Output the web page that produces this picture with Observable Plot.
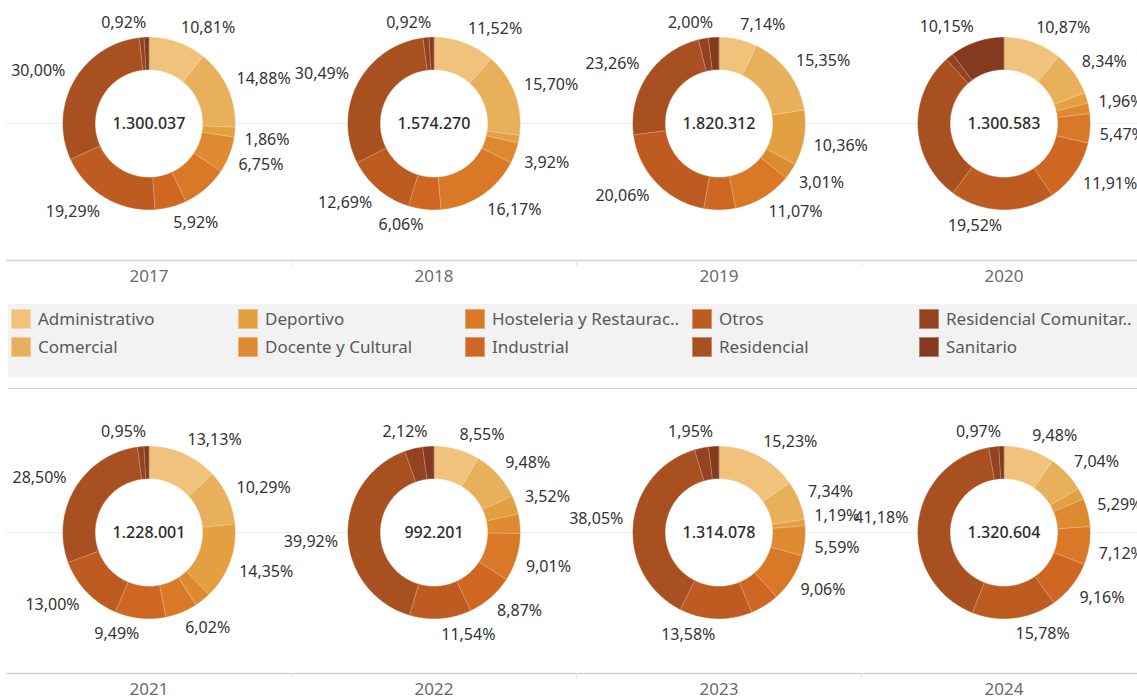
<!DOCTYPE html>
<html>
<head>
<meta charset="utf-8">
<script src="https://cdn.jsdelivr.net/npm/d3@7"></script>
<script src="https://cdn.jsdelivr.net/npm/@observablehq/plot@0.6"></script>
<style>
  html, body { margin: 0; padding: 0; background: #fff; overflow: hidden; width: 1137px; height: 697px; }
  #root { width: 1146px; font-family: 'Noto Sans', sans-serif; }
  #root svg { display: block; }
  .legwrap { margin-left: 8px; height: 92px; padding-top: 7px; box-sizing: border-box; border-bottom: 1.5px solid #d3d3d3; }
  .legbox { height: 73px; background: #f2f2f2; padding: 5px 0 0 3px; box-sizing: border-box; }
  .leggrid { display: grid; grid-template-columns: repeat(5, 227px); grid-template-rows: 28px 28px; grid-auto-flow: column; }
  .legitem { display: flex; align-items: flex-start; }
  .sw { width: 20px; height: 20px; margin-right: 7px; flex: none; box-sizing: border-box; border: 1px solid rgba(255,255,255,0.35); }
  .lt { font-size: 17px; line-height: 20px; color: #595959; white-space: nowrap; }
</style>
</head>
<body>
<div id="root"></div>
<script>
// ---- data ----
const years = ["2017", "2018", "2019", "2020", "2021", "2022", "2023", "2024"];
const categories = ["Administrativo", "Comercial", "Deportivo", "Docente y Cultural",
  "Hosteleria y Restaurac..", "Industrial", "Otros", "Residencial",
  "Residencial Comunitar..", "Sanitario"];
const colors = ["#f0c27b", "#e8b05b", "#e2a041", "#de8a31", "#d97928", "#cf6722",
  "#bd5b20", "#a8501f", "#954220", "#85391e"];
const totals = [1300037, 1574270, 1820312, 1300583, 1228001, 992201, 1314078, 1320604];
// share (%) per category, in category order
const s2017 = [10.81, 14.88, 1.86, 6.75, 8.67, 5.92, 19.29, 30.00, 0.90, 0.92];
const s2018 = [11.52, 15.70, 1.40, 3.92, 16.17, 6.06, 12.69, 30.49, 1.13, 0.92];
const s2019 = [7.14, 15.35, 10.36, 3.01, 11.07, 5.90, 20.06, 23.26, 1.85, 2.00];
const s2020 = [10.87, 8.34, 2.00, 1.96, 5.47, 11.91, 19.52, 28.28, 1.50, 10.15];
const s2021 = [13.13, 10.29, 14.35, 3.07, 6.02, 9.49, 13.00, 28.50, 1.20, 0.95];
const s2022 = [8.55, 9.48, 3.52, 3.60, 9.01, 8.87, 11.54, 39.92, 3.39, 2.12];
const s2023 = [15.23, 7.34, 1.19, 5.59, 9.06, 5.40, 13.58, 38.05, 2.61, 1.95];
const s2024 = [9.48, 7.04, 2.10, 5.29, 7.12, 9.16, 15.78, 41.18, 1.88, 0.97];
const shares = [s2017, s2018, s2019, s2020, s2021, s2022, s2023, s2024];
// category indices whose label is not shown (overlap hidden), per year
const hiddenLabels = [[4, 8], [2, 8], [5, 8], [2, 7, 8], [3, 8], [3, 8], [5, 8], [2, 8]];

// ---- geometry constants (pixels) ----
const R_OUT = 86, R_IN = 54, R_LAB = 96, COL_W = 285;

const es = d3.formatLocale({decimal: ",", thousands: ".", grouping: [3], currency: ["", "€"]});
const fmtInt = es.format(",d");
const fmtPct = v => v.toFixed(2).replace(".", ",") + "%";

const ring = [], bounds = [], labels = [], centers = [];
years.forEach((year, yi) => {
  centers.push({year, total: totals[yi], x: 0, y: 0});
  let cum = 0;
  shares[yi].forEach((v, ci) => {
    const a0 = cum / 100 * 2 * Math.PI, a1 = (cum + v) / 100 * 2 * Math.PI;
    const n = Math.max(2, Math.ceil((a1 - a0) / (Math.PI / 240)));
    const key = year + "-" + ci;
    for (let i = 0; i <= n; i++) {
      const a = a0 + (a1 - a0) * i / n;
      ring.push({year, key, cat: categories[ci], x: R_OUT * Math.sin(a), y: -R_OUT * Math.cos(a)});
    }
    for (let i = n; i >= 0; i--) {
      const a = a0 + (a1 - a0) * i / n;
      ring.push({year, key, cat: categories[ci], x: R_IN * Math.sin(a), y: -R_IN * Math.cos(a)});
    }
    bounds.push({year, x1: R_IN * Math.sin(a0), y1: -R_IN * Math.cos(a0), x2: R_OUT * Math.sin(a0), y2: -R_OUT * Math.cos(a0)});
    if (!hiddenLabels[yi].includes(ci)) {
      const am = (a0 + a1) / 2;
      const s = Math.sin(am), c = Math.cos(am);
      labels.push({year, text: fmtPct(v), x: R_LAB * s, y: -R_LAB * c, right: s >= 0, top: c >= 0});
    }
    cum += v;
  });
});

const color = {domain: categories, range: colors};

function donutRow(rowYears, height, centerY, frameBottom) {
  const inRow = d => rowYears.includes(d.year);
  const bottom = frameBottom - centerY;
  const lab = labels.filter(inRow);
  const textOpts = {x: "x", y: "y", fx: "year", text: "text", fontSize: 16, fill: "#333"};
  return Plot.plot({
    width: 1146, height,
    marginLeft: 6, marginRight: 0, marginTop: 0, marginBottom: height - frameBottom,
    style: {fontFamily: "'Noto Sans', sans-serif", fontSize: "15px", overflow: "visible", background: "transparent"},
    fx: {domain: rowYears, padding: 0, label: null},
    x: {domain: [-COL_W / 2, COL_W / 2], axis: null},
    y: {domain: [-centerY, bottom], reverse: true, axis: null},
    color,
    marks: [
      Plot.ruleY([0], {stroke: "#ececec", strokeWidth: 1}),
      Plot.ruleY([bottom], {stroke: "#d3d3d3", strokeWidth: 1.5}),
      Plot.ruleX([COL_W / 2], {y1: bottom, y2: bottom + 6, stroke: "#e6e6e6"}),
      Plot.dot(centers.filter(inRow), {x: "x", y: "y", fx: "year", r: R_IN, fill: "white"}),
      Plot.line(ring.filter(inRow), {x: "x", y: "y", z: "key", fx: "year", fill: "cat", stroke: "cat", strokeWidth: 0.6, curve: "linear"}),
      Plot.link(bounds.filter(inRow), {x1: "x1", y1: "y1", x2: "x2", y2: "y2", fx: "year", stroke: "white", strokeOpacity: 0.35, strokeWidth: 0.8}),
      Plot.text(lab.filter(d => d.right && d.top), {...textOpts, textAnchor: "start", lineAnchor: "bottom"}),
      Plot.text(lab.filter(d => d.right && !d.top), {...textOpts, textAnchor: "start", lineAnchor: "top"}),
      Plot.text(lab.filter(d => !d.right && d.top), {...textOpts, textAnchor: "end", lineAnchor: "bottom"}),
      Plot.text(lab.filter(d => !d.right && !d.top), {...textOpts, textAnchor: "end", lineAnchor: "top"}),
      Plot.text(centers.filter(inRow), {x: "x", y: "y", fx: "year", text: d => fmtInt(d.total), fontSize: 16, fontWeight: 500, fill: "#2b2b2b"}),
      Plot.axisFx({anchor: "bottom", tickSize: 0, tickPadding: 9, fontSize: 17, fill: "#6b6b6b", label: null})
    ]
  });
}

const root = document.getElementById("root");
root.appendChild(donutRow(years.slice(0, 4), 297, 123, 260));

// legend (column-major, 2 rows x 5 columns)
const colorScale = Plot.scale({color});
const legWrap = document.createElement("div");
legWrap.className = "legwrap";
const legBox = document.createElement("div");
legBox.className = "legbox";
const grid = document.createElement("div");
grid.className = "leggrid";
categories.forEach(cat => {
  const item = document.createElement("div");
  item.className = "legitem";
  const sw = document.createElement("div");
  sw.className = "sw";
  sw.style.background = colorScale.apply(cat);
  const t = document.createElement("span");
  t.className = "lt";
  t.textContent = cat;
  item.appendChild(sw);
  item.appendChild(t);
  grid.appendChild(item);
});
legBox.appendChild(grid);
legWrap.appendChild(legBox);
root.appendChild(legWrap);

root.appendChild(donutRow(years.slice(4), 308, 143, 284));
</script>
</body>
</html>
